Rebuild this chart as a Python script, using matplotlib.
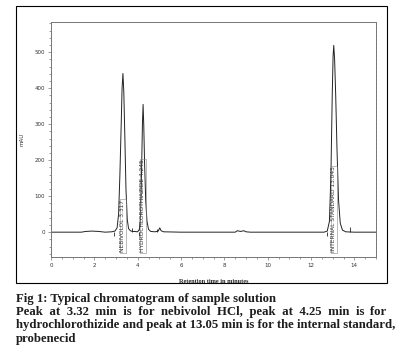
import matplotlib
matplotlib.use("Agg")
import matplotlib.pyplot as plt
from matplotlib.patches import Rectangle
from matplotlib.ticker import MultipleLocator

# chromatogram (time in min, signal in mAU)
times = [0.0, 1.4, 1.6, 1.9, 2.2, 2.5, 2.8, 2.95, 3.05, 3.12, 3.18, 3.24, 3.28, 3.32,
         3.36, 3.41, 3.46, 3.52, 3.58, 3.66, 3.75, 3.85, 4.0, 4.08, 4.13, 4.18, 4.22,
         4.25, 4.28, 4.32, 4.37, 4.43, 4.5, 4.6, 4.8, 4.95, 5.02, 5.08, 5.2, 6.0,
         8.5, 8.6, 8.75, 8.9, 9.0, 9.2, 12.6, 12.75, 12.85, 12.92, 12.98, 13.02,
         13.05, 13.09, 13.14, 13.2, 13.27, 13.35, 13.45, 13.6, 14.0, 15.0]
signal = [0, 0, 2, 3, 2, 0, 1, 3, 12, 50, 160, 300, 400, 441,
          390, 260, 120, 35, 10, 4, 2, 2, 1, 8, 40, 170, 300,
          355, 300, 190, 90, 30, 8, 2, 1, 3, 12, 4, 1, 0,
          0, 4, 2, 4, 1, 0, 0, 3, 30, 160, 380, 490,
          519, 480, 380, 230, 90, 25, 6, 1, 0, 0]

# integration event marks
mark_t = [2.9, 3.72, 4.05, 4.9, 12.72, 13.82]
mark_lo = [-10, 0, -10, 0, -10, 0]
mark_hi = [0, 12, 0, 10, 0, 14]

peak_t = [3.317, 4.245, 13.045]
peak_labels = ["NEBIVOLOL 3.317", "HYDROCHLOROTHIAZIDE 4.245", "INTERNAL STANDARD 13.045"]

caption_title = "Fig 1: Typical chromatogram of sample solution"
caption_lines = ["Peak at 3.32 min is for nebivolol HCl, peak at 4.25 min is for",
                 "hydrochlorothizide and peak at 13.05 min is for the internal standard,",
                 "probenecid"]

W, H = 401, 353
fig = plt.figure(figsize=(W / 100, H / 100), dpi=100)

# outer frame
fig.patches.append(Rectangle((16 / W, 1 - 283 / H), 371 / W, 277 / H,
                             transform=fig.transFigure, fill=False,
                             edgecolor="black", linewidth=0.8))

ax = fig.add_axes([51 / W, 1 - 257 / H, 325 / W, 235 / H])
frame_col = "#737873"
ax.plot(times, signal, color="#222222", linewidth=0.7)
ax.vlines(mark_t, mark_lo, mark_hi, color="#222222", linewidth=0.6)

for t, lab in zip(peak_t, peak_labels):
    ax.text(t, -55, lab, rotation=90, ha="center", va="bottom",
            fontsize=4.2, color="#333333",
            bbox=dict(boxstyle="square,pad=0.1", fc="none", ec="#888888", lw=0.4))

ax.set_xlim(0, 15)
ax.set_ylim(-69, 584)
ax.xaxis.set_major_locator(MultipleLocator(2))
ax.xaxis.set_minor_locator(MultipleLocator(0.5))
ax.yaxis.set_major_locator(MultipleLocator(100))
ax.yaxis.set_minor_locator(MultipleLocator(20))
ax.set_yticks([0, 100, 200, 300, 400, 500])
for s in ax.spines.values():
    s.set_color(frame_col)
    s.set_linewidth(0.6)
    s.set_linestyle((0, (1, 0.6)))
ax.tick_params(which="both", colors=frame_col, labelcolor="#333333",
               labelsize=4, width=0.5)
ax.tick_params(which="major", length=2.5, pad=2)
ax.tick_params(which="minor", length=1.2)
ax.set_ylabel("mAU", fontsize=4, color="#333333", labelpad=7)
ax.set_xlabel("Retention time in minutes", fontsize=4.5, fontweight="bold",
              family="Liberation Serif", color="#222222", labelpad=8)

# caption; first body line justified by padding gaps with hair spaces
cap_kw = dict(family=["Liberation Serif", "DejaVu Serif"], fontweight="bold",
              fontsize=9.2, color="#1e1e1e", va="baseline", ha="left")
left, right = 16, 387
fig.text(left / W, 1 - 302 / H, caption_title, **cap_kw)

fig.canvas.draw()
renderer = fig.canvas.get_renderer()


def text_width(s):
    t = fig.text(0, 0, s, **cap_kw)
    w = t.get_window_extent(renderer).width
    t.remove()
    return w


def justify(line, target):
    words = line.split(" ")
    pads = [0] * (len(words) - 1)

    def build(p):
        out = words[0]
        for n, w in zip(p, words[1:]):
            out += " " + "\u200a" * n + w
        return out

    i = 0
    for _ in range(200):
        trial = list(pads)
        trial[i % len(pads)] += 1
        if text_width(build(trial)) > target:
            break
        pads = trial
        i += 1
    return build(pads)


ys = [315, 328, 342]
for line, yy, just in zip(caption_lines, ys, [True, False, False]):
    s = justify(line, right - left) if just else line
    fig.text(left / W, 1 - yy / H, s, **cap_kw)

fig.savefig("out.png", dpi=100)
